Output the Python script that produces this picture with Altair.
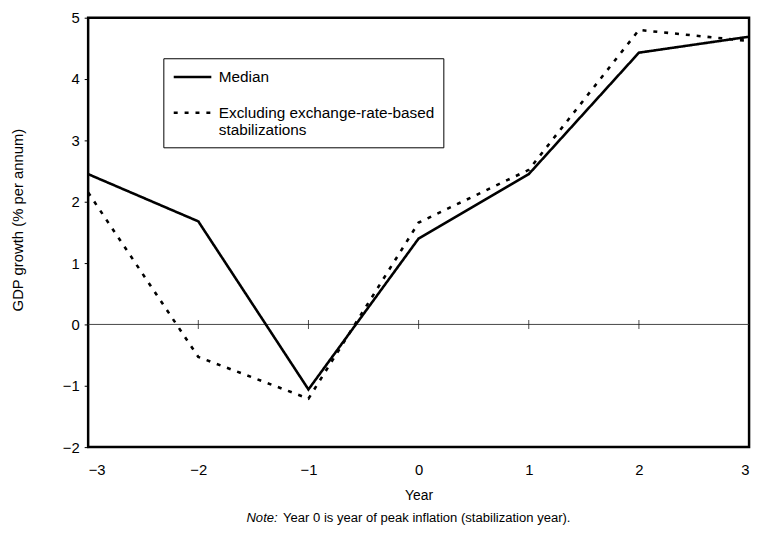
import altair as alt
import pandas as pd

years = [-3, -2, -1, 0, 1, 2, 3]
median = [2.45, 1.68, -1.06, 1.40, 2.45, 4.43, 4.69]
excluding = [2.15, -0.53, -1.21, 1.66, 2.52, 4.80, 4.62]
series_names = ["Median", "Excluding exchange-rate-based stabilizations"]
y_ticks = [-2, -1, 0, 1, 2, 3, 4, 5]

rows = []
for yr, m, e in zip(years, median, excluding):
    rows.append({"year": yr, "growth": m, "series": series_names[0]})
    rows.append({"year": yr, "growth": e, "series": series_names[1]})
df = pd.DataFrame(rows)
zero_df = pd.DataFrame({"year": years, "zero": [0] * len(years)})

FONT = "Liberation Sans"
xscale = alt.Scale(domain=[-3, 3], nice=False, zero=False)
yscale = alt.Scale(domain=[-2, 5], nice=False)
minus_expr = "replace(format(datum.value, 'd'), '-', '\u2212')"

lines = alt.Chart(df).mark_line(color="black", strokeWidth=2.6).encode(
    x=alt.X("year:Q", scale=xscale,
            axis=alt.Axis(title="Year", values=years, ticks=False, domain=False, grid=False,
                          labelPadding=16, labelFontSize=15, titleFontSize=14,
                          labelColor="black", titleColor="black",
                          titleFontWeight="normal", titlePadding=11,
                          labelExpr=minus_expr)),
    y=alt.Y("growth:Q", scale=yscale,
            axis=alt.Axis(title="GDP growth (% per annum)", values=y_ticks, grid=False,
                          tickSize=4, tickColor="black", domain=False,
                          labelPadding=5, labelFontSize=15, titleFontSize=15,
                          labelColor="black", titleColor="black",
                          titleFontWeight="normal", titleX=-71, titleY=204,
                          titleAngle=270, titleAlign="center", titleBaseline="middle",
                          labelExpr=minus_expr)),
    strokeDash=alt.StrokeDash(
        "series:N",
        scale=alt.Scale(domain=series_names, range=[[1, 0], [4, 7]]),
        legend=alt.Legend(
            title=None, orient="none", legendX=76, legendY=41,
            strokeColor="black", padding=9, symbolType="stroke",
            symbolSize=1444, symbolStrokeWidth=2.6, symbolStrokeColor="black",
            clipHeight=20, labelLimit=400,
            labelFontSize=15.5, labelFont=FONT, labelColor="black",
            rowPadding=16, labelOffset=6,
            labelExpr="datum.label == 'Median' ? 'Median' : ['Excluding exchange-rate-based', 'stabilizations']",
        ),
    ),
)

zero_rule = alt.Chart(zero_df).mark_line(color="#444", strokeWidth=1).encode(
    x=alt.X("year:Q", scale=xscale), y=alt.Y("zero:Q", scale=yscale)
)
zero_ticks = alt.Chart(zero_df).mark_tick(color="black", orient="vertical", size=9, thickness=1).encode(
    x=alt.X("year:Q", scale=xscale), y=alt.Y("zero:Q", scale=yscale)
)

note = alt.Chart(pd.DataFrame({"t": ["Year 0 is year of peak inflation (stabilization year)."]})).mark_text(
    font=FONT, fontSize=13.2, align="left", baseline="middle"
).encode(x=alt.value(197), y=alt.value(506), text="t:N")
note_it = alt.Chart(pd.DataFrame({"t": ["Note:"]})).mark_text(
    font=FONT, fontSize=13.2, fontStyle="italic", align="left", baseline="middle"
).encode(x=alt.value(160), y=alt.value(506), text="t:N")

chart = alt.layer(zero_rule, zero_ticks, lines, note_it, note).properties(
    width=668, height=434,
    padding={"left": 81, "top": 7, "right": 7, "bottom": 84},
    autosize=alt.AutoSizeParams(type="none"),
).configure(font=FONT).configure_view(stroke="black", strokeWidth=2.5)

chart.save("out.html", embed_options={"renderer": "svg", "actions": False})
